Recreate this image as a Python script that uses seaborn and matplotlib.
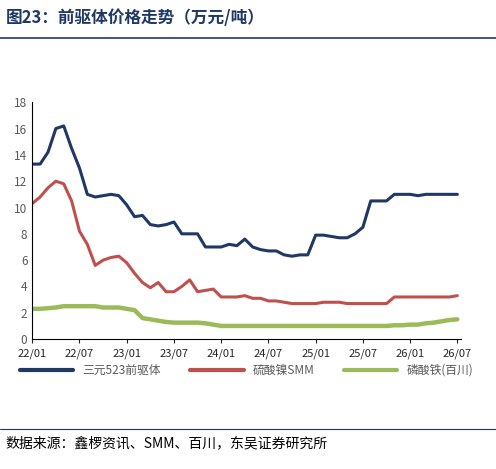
import matplotlib
matplotlib.use("Agg")
import matplotlib.pyplot as plt
import seaborn as sns
import pandas as pd

sns.set_style("white")
plt.rcParams['font.family'] = ['Noto Sans CJK SC', 'DejaVu Sans']

# months since 2022/01
months = list(range(55))
ncm523 = [13.3, 13.3, 14.2, 16.0, 16.2, 14.5, 13.0, 11.0, 10.8, 10.9, 11.0, 10.9, 10.2, 9.3,
          9.4, 8.7, 8.6, 8.7, 8.9, 8.0, 8.0, 8.0, 7.0, 7.0, 7.0, 7.2, 7.1, 7.6, 7.0, 6.8,
          6.7, 6.7, 6.4, 6.3, 6.4, 6.4, 7.9, 7.9, 7.8, 7.7, 7.7, 8.0, 8.5, 10.5, 10.5, 10.5,
          11.0, 11.0, 11.0, 10.9, 11.0, 11.0, 11.0, 11.0, 11.0]
nickel = [10.3, 10.8, 11.5, 12.0, 11.8, 10.5, 8.2, 7.2, 5.6, 6.0, 6.2, 6.3, 5.8, 5.0,
          4.3, 3.9, 4.3, 3.6, 3.6, 4.0, 4.5, 3.6, 3.7, 3.8, 3.2, 3.2, 3.2, 3.3, 3.1, 3.1,
          2.9, 2.9, 2.8, 2.7, 2.7, 2.7, 2.7, 2.8, 2.8, 2.8, 2.7, 2.7, 2.7, 2.7, 2.7, 2.7,
          3.2, 3.2, 3.2, 3.2, 3.2, 3.2, 3.2, 3.2, 3.3]
lfp = [2.3, 2.3, 2.35, 2.4, 2.5, 2.5, 2.5, 2.5, 2.5, 2.4, 2.4, 2.4, 2.3, 2.2,
       1.6, 1.5, 1.4, 1.3, 1.25, 1.25, 1.25, 1.25, 1.2, 1.1, 1.0, 1.0, 1.0, 1.0, 1.0, 1.0,
       1.0, 1.0, 1.0, 1.0, 1.0, 1.0, 1.0, 1.0, 1.0, 1.0, 1.0, 1.0, 1.0, 1.0, 1.0, 1.0,
       1.05, 1.05, 1.1, 1.1, 1.2, 1.25, 1.35, 1.45, 1.5]
tick_labels = ['22/01', '22/07', '23/01', '23/07', '24/01', '24/07', '25/01', '25/07', '26/01', '26/07']

df = pd.DataFrame({'m': months, '三元523前驱体': ncm523, '硫酸镍SMM': nickel, '磷酸铁(百川)': lfp})
long = df.melt(id_vars='m', var_name='s', value_name='v')

fig = plt.figure(figsize=(4.96, 4.69), dpi=100)
ax = fig.add_axes([0.065, 0.277, 0.865, 0.505])
sns.lineplot(data=long, x='m', y='v', hue='s',
             palette=['#1F3864', '#C0504D', '#9BBB59'], linewidth=2.2, ax=ax)
for ln in ax.get_lines()[2:3]:
    ln.set_linewidth(3.2)

ax.set_xlim(0, 54.5)
ax.set_ylim(0, 18)
ax.set_yticks(range(0, 19, 2))
ax.set_xticks(range(0, 55, 6))
ax.set_xticklabels(tick_labels)
ax.set_xlabel('')
ax.set_ylabel('')
ax.tick_params(axis='y', labelsize=8.5, colors='#595959', length=0)
ax.tick_params(axis='x', labelsize=8, length=3, direction='out', bottom=True)
for s in ['top', 'right']:
    ax.spines[s].set_visible(False)
ax.spines['left'].set_color('black')
ax.spines['bottom'].set_color('black')

h, l = ax.get_legend_handles_labels()
for hh in h:
    hh.set_linewidth(3)
ax.legend(h, l, loc='upper center', bbox_to_anchor=(0.5, -0.06), ncol=3, frameon=False,
          fontsize=8.5, handlelength=4.5, columnspacing=2.5, labelcolor='#595959')

fig.text(0.012, 0.962, '图23：前驱体价格走势（万元/吨）', fontsize=12, fontweight='bold',
         color='#1F3864', va='center')
fig.add_artist(plt.Line2D([0.0, 1.0], [0.918, 0.918], color='#1F3864', lw=1.2))
fig.add_artist(plt.Line2D([0.0, 1.0], [0.085, 0.085], color='#1F3864', lw=0.8))
fig.text(0.012, 0.055, '数据来源：鑫椤资讯、SMM、百川，东吴证券研究所', fontsize=10,
         color='black', va='center')

fig.savefig('out.png', dpi=100)
